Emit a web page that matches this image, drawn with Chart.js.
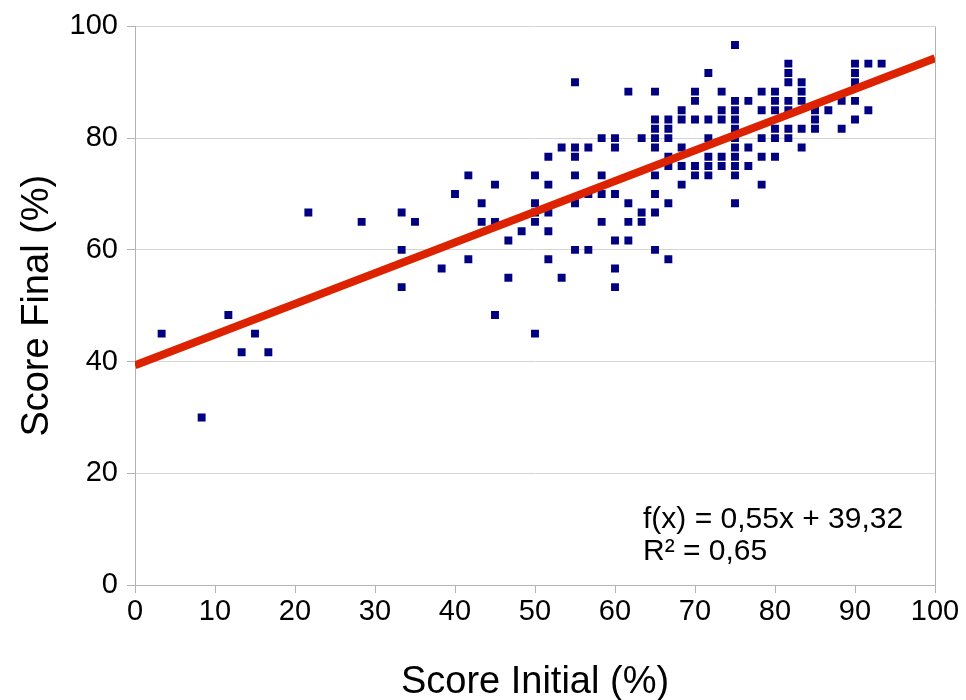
<!DOCTYPE html>
<html><head><meta charset="utf-8">
<script src="https://cdn.jsdelivr.net/npm/chart.js@4.4.1/dist/chart.umd.min.js"></script>
<style>html,body{margin:0;padding:0;background:#fff;}#wrap{width:966px;height:700px;position:relative}</style>
</head><body><div id="wrap"><canvas id="c" width="966" height="700"></canvas></div>
<script>
// Score Initial (%) of each student
const scoreInitial = [
  3.33, 8.33, 11.67, 13.33, 15, 16.67, 21.67, 28.33, 33.33, 33.33, 33.33, 35, 38.33,
  40, 41.67, 41.67, 43.33, 43.33, 45, 45, 45, 46.67, 46.67, 48.33,
  50, 50, 50, 50, 50,
  51.67, 51.67, 51.67, 51.67, 51.67,
  53.33, 53.33,
  55, 55, 55, 55, 55, 55,
  56.67, 56.67, 56.67,
  58.33, 58.33, 58.33, 58.33,
  60, 60, 60, 60, 60, 60,
  61.67, 61.67, 61.67, 61.67,
  63.33, 63.33, 63.33,
  65, 65, 65, 65, 65, 65, 65, 65, 65,
  66.67, 66.67, 66.67, 66.67, 66.67, 66.67, 66.67,
  68.33, 68.33, 68.33, 68.33, 68.33,
  70, 70, 70, 70, 70,
  71.67, 71.67, 71.67, 71.67, 71.67, 71.67,
  73.33, 73.33, 73.33, 73.33, 73.33,
  75, 75, 75, 75, 75, 75, 75, 75, 75, 75, 75,
  76.67, 76.67, 76.67,
  78.33, 78.33, 78.33, 78.33, 78.33,
  80, 80, 80, 80, 80, 80,
  81.67, 81.67, 81.67, 81.67, 81.67, 81.67, 81.67,
  83.33, 83.33, 83.33, 83.33, 83.33,
  85, 85, 85,
  86.67,
  88.33, 88.33,
  90, 90, 90, 90, 90,
  91.67, 91.67,
  93.33
];
// Score Final (%) of the same students
const scoreFinal = [
  45, 30, 48.33, 41.67, 45, 41.67, 66.67, 65, 66.67, 60, 53.33, 65, 56.67,
  70, 73.33, 58.33, 68.33, 65, 71.67, 65, 48.33, 61.67, 55, 63.33,
  73.33, 68.33, 66.67, 65, 45,
  76.67, 71.67, 66.67, 63.33, 58.33,
  78.33, 55,
  90, 78.33, 76.67, 73.33, 68.33, 60,
  78.33, 70, 60,
  80, 73.33, 70, 65,
  80, 78.33, 70, 61.67, 56.67, 53.33,
  88.33, 68.33, 65, 61.67,
  80, 66.67, 65,
  88.33, 83.33, 81.67, 80, 78.33, 73.33, 70, 66.67, 60,
  83.33, 81.67, 80, 76.67, 75, 68.33, 58.33,
  85, 83.33, 78.33, 75, 71.67,
  88.33, 86.67, 83.33, 75, 73.33,
  91.67, 83.33, 80, 76.67, 75, 73.33,
  88.33, 85, 83.33, 76.67, 75,
  96.67, 86.67, 85, 83.33, 81.67, 80, 78.33, 76.67, 75, 73.33, 68.33,
  86.67, 78.33, 75,
  88.33, 85, 80, 76.67, 71.67,
  88.33, 86.67, 85, 81.67, 80, 76.67,
  93.33, 91.67, 90, 86.67, 85, 81.67, 80,
  90, 88.33, 86.67, 81.67, 78.33,
  85, 83.33, 81.67,
  85,
  86.67, 81.67,
  93.33, 91.67, 90, 86.67, 83.33,
  93.33, 85,
  93.33
];
// Linear trend line end points (x = 0 and x = 100)
const trendX = [0, 100];
const trendY = [39.32, 94.32];
const xTicks = [0, 10, 20, 30, 40, 50, 60, 70, 80, 90, 100];
const yTicks = [0, 20, 40, 60, 80, 100];
const equationLines = ['f(x) = 0,55x + 39,32', 'R² = 0,65'];
const xTitle = 'Score Initial (%)';
const yTitle = 'Score Final (%)';

const FONT = '"Liberation Sans", Arial, sans-serif';

const equationPlugin = {
  id: 'equation',
  afterDatasetsDraw(chart) {
    const {ctx, chartArea} = chart;
    ctx.save();
    ctx.font = '30px ' + FONT;
    ctx.fillStyle = '#000';
    ctx.textAlign = 'left';
    ctx.textBaseline = 'alphabetic';
    ctx.fillText(equationLines[0], chartArea.left + 508, chartArea.top + 502);
    ctx.fillText(equationLines[1], chartArea.left + 508, chartArea.top + 534);
    ctx.restore();
  }
};

new Chart(document.getElementById('c'), {
  type: 'scatter',
  data: {
    datasets: [
      {
        label: 'trend',
        data: trendX.map((x, i) => ({x, y: trendY[i]})),
        showLine: true,
        borderColor: '#dd2200',
        borderWidth: 8,
        pointRadius: 0,
        borderCapStyle: 'butt',
        order: 0
      },
      {
        label: 'scores',
        data: scoreInitial.map((x, i) => ({x, y: scoreFinal[i]})),
        pointStyle: 'rect',
        pointRadius: 5.6,
        backgroundColor: '#000080',
        borderWidth: 0,
        order: 1
      }
    ]
  },
  options: {
    responsive: false,
    animation: false,
    devicePixelRatio: 1,
    layout: {padding: {left: 0, top: 25, right: 31, bottom: 0}},
    plugins: {legend: {display: false}, tooltip: {enabled: false}},
    scales: {
      x: {
        type: 'linear', min: 0, max: 100,
        afterBuildTicks: s => { s.ticks = xTicks.map(v => ({value: v})); },
        afterFit: s => { s.height = 115; },
        ticks: {color: '#000', font: {family: FONT, size: 29}, padding: 2, maxRotation: 0},
        grid: {
          color: c => (c.tick && c.tick.value === 100) ? '#b3b3b3' : 'rgba(0,0,0,0)',
          tickColor: '#b3b3b3', tickLength: 8, lineWidth: 1
        },
        border: {display: true, color: '#b3b3b3'},
        title: {display: true, text: xTitle, color: '#000', font: {family: FONT, size: 38, lineHeight: 1}, padding: {top: 0, bottom: -2}}
      },
      y: {
        type: 'linear', min: 0, max: 100,
        afterBuildTicks: s => { s.ticks = yTicks.map(v => ({value: v})); },
        afterFit: s => { s.width = 135; },
        ticks: {color: '#000', font: {family: FONT, size: 29}, padding: 9},
        grid: {color: '#d4d4d4', tickColor: '#b3b3b3', tickLength: 8, lineWidth: 1},
        border: {display: true, color: '#b3b3b3'},
        title: {display: true, text: yTitle, color: '#000', font: {family: FONT, size: 38, lineHeight: 1.2}, padding: {top: 15, bottom: 0}}
      }
    }
  },
  plugins: [equationPlugin]
});
</script></body></html>
